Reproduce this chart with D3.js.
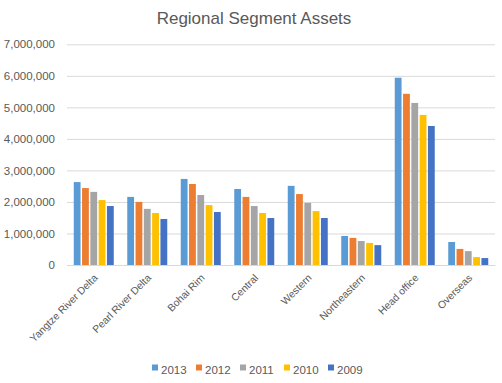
<!DOCTYPE html>
<html><head><meta charset="utf-8">
<script src="https://cdn.jsdelivr.net/npm/d3@7"></script>
<style>
html,body{margin:0;padding:0;background:#fff;}
svg{display:block;font-family:"Liberation Sans",Arial,sans-serif;}
</style></head>
<body><svg id="c" width="502" height="383"></svg>
<script>
const categories = ["Yangtze River Delta","Pearl River Delta","Bohai Rim","Central","Western","Northeastern","Head office","Overseas"];
const years = ["2013","2012","2011","2010","2009"];
const v2013 = [2630000,2160000,2730000,2410000,2510000,920000,5940000,730000];
const v2012 = [2440000,2000000,2570000,2160000,2250000,860000,5430000,510000];
const v2011 = [2320000,1780000,2220000,1870000,1970000,760000,5140000,440000];
const v2010 = [2060000,1650000,1900000,1650000,1710000,700000,4760000,250000];
const v2009 = [1870000,1460000,1680000,1490000,1490000,630000,4410000,220000];
const yTicks = [0,1000000,2000000,3000000,4000000,5000000,6000000,7000000];
const colors = ["#5B9BD5","#ED7D31","#A5A5A5","#FFC000","#4472C4"];
const seriesValues = [v2013,v2012,v2011,v2010,v2009];

const svg = d3.select("#c");
const mLeft = 67, mRight = 495, mTop = 44.3, mBottom = 265;
const y = d3.scaleLinear().domain([0,7000000]).range([mBottom, mTop]);
const x0 = d3.scaleBand().domain(categories).range([mLeft,mRight]).padding(0);
const x1 = d3.scaleBand().domain(years).range([-20,20]).paddingInner(0.18).paddingOuter(0);
const color = d3.scaleOrdinal().domain(years).range(colors);

svg.append("text").attr("x",254).attr("y",24).attr("text-anchor","middle")
  .attr("font-size","17px").attr("fill","#595959").text("Regional Segment Assets");

const yAxis = d3.axisLeft(y).tickValues(yTicks).tickSize(-(mRight-mLeft)).tickFormat(d3.format(","));
const gy = svg.append("g").attr("transform",`translate(${mLeft},0)`).call(yAxis);
gy.select(".domain").remove();
gy.selectAll(".tick line").attr("stroke","#d9d9d9").attr("stroke-width",1);
gy.selectAll(".tick text").attr("x",-12).attr("fill","#595959").attr("font-size","11.5px")
  .attr("font-family","Liberation Sans, Arial, sans-serif");

const groups = svg.append("g").selectAll("g").data(categories).join("g")
  .attr("transform", d => `translate(${x0(d)+x0.bandwidth()/2},0)`);
groups.selectAll("rect").data((d,i) => years.map((yr,k) => ({yr, v: seriesValues[k][i]}))).join("rect")
  .attr("x", d => x1(d.yr)).attr("width", x1.bandwidth())
  .attr("y", d => y(d.v)).attr("height", d => y(0)-y(d.v))
  .attr("fill", d => color(d.yr));

const xAxis = d3.axisBottom(x0).tickSize(0);
const gx = svg.append("g").attr("transform",`translate(0,${mBottom})`).call(xAxis);
gx.select(".domain").attr("stroke","#d9d9d9");
gx.selectAll(".tick text").attr("fill","#595959").attr("font-size","10.3px")
  .attr("font-family","Liberation Sans, Arial, sans-serif")
  .attr("text-anchor","end").attr("dy","0.35em")
  .attr("transform","translate(2,11) rotate(-45)").attr("y",0).attr("x",0);

const legend = svg.append("g");
const lx = d3.scaleBand().domain(years).range([152, 372]);
const li = legend.selectAll("g").data(years).join("g").attr("transform", d => `translate(${lx(d)},0)`);
li.append("rect").attr("x",0).attr("y",364.5).attr("width",6).attr("height",6).attr("fill", d => color(d));
li.append("text").attr("x",9).attr("y",373.5).attr("font-size","11.5px").attr("fill","#595959").text(d => d);
</script></body></html>
